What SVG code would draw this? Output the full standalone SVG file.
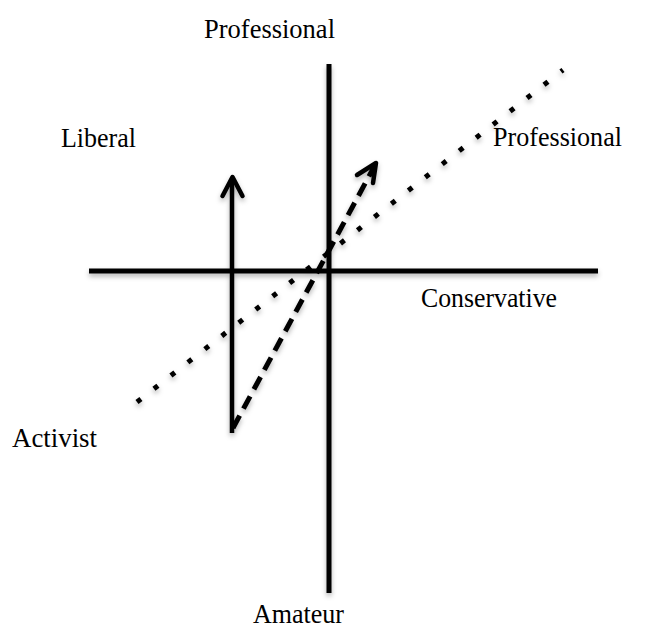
<svg xmlns="http://www.w3.org/2000/svg" width="655" height="630" viewBox="0 0 655 630">
  <style>
    .label { font-family: "Liberation Serif", "Times New Roman", serif; font-size: 28px; fill: #000; }
    .axis { stroke: #000; stroke-width: 5; fill: none; }
    .solid { stroke: #000; stroke-width: 4.5; fill: none; stroke-linecap: butt; }
    .dashed { stroke: #000; stroke-width: 5; fill: none; stroke-dasharray: 14 8; }
    .dotted { stroke: #000; stroke-width: 5; fill: none; stroke-dasharray: 5 16.5; }
    .head { stroke: #000; stroke-width: 4.5; fill: none; stroke-linecap: round; stroke-linejoin: round; }
  </style>
  <defs>
    <filter id="shadow" x="-20%" y="-20%" width="140%" height="140%">
      <feDropShadow dx="0" dy="3" stdDeviation="2.5" flood-color="#000" flood-opacity="0.3"/>
    </filter>
  </defs>
  <rect width="655" height="630" fill="#fff"/>

  <!-- axes and vectors -->
  <g id="connectors" filter="url(#shadow)">
    <line class="axis" x1="329" y1="64" x2="329" y2="593"/>
    <line class="axis" x1="89" y1="271" x2="598" y2="271"/>
    <line class="dotted" x1="137" y1="402" x2="563" y2="70"/>
    <line class="solid" x1="232" y1="433" x2="232" y2="179"/>
    <polyline class="head" points="222.5,196 232.5,177 242.5,196"/>
    <line class="dashed" x1="233" y1="428" x2="374" y2="167"/>
    <polyline class="head" points="357,175 376,163 373,183"/>
  </g>

  <!-- axis labels -->
  <g id="label-professional-top"><text class="label" x="204" y="38" textLength="131" lengthAdjust="spacingAndGlyphs">Professional</text></g>
  <g id="label-liberal"><text class="label" x="61" y="147" textLength="75" lengthAdjust="spacingAndGlyphs">Liberal</text></g>
  <g id="label-professional-right"><text class="label" x="493" y="146" textLength="129" lengthAdjust="spacingAndGlyphs">Professional</text></g>
  <g id="label-conservative"><text class="label" x="421" y="307" textLength="136" lengthAdjust="spacingAndGlyphs">Conservative</text></g>
  <g id="label-activist"><text class="label" x="12" y="447" textLength="85" lengthAdjust="spacingAndGlyphs">Activist</text></g>
  <g id="label-amateur"><text class="label" x="253" y="623" textLength="91" lengthAdjust="spacingAndGlyphs">Amateur</text></g>
</svg>
